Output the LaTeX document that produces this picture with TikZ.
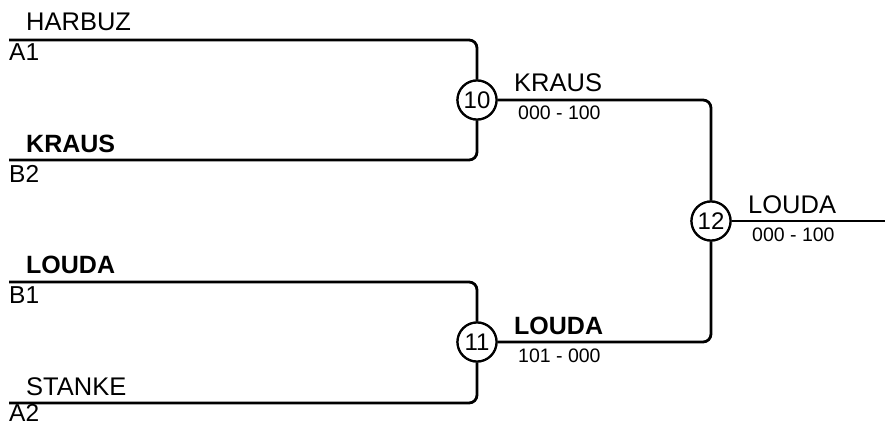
\documentclass[tikz,border=0pt]{standalone}
\usepackage{fontspec}
\setmainfont{Liberation Sans}
\begin{document}
\begin{tikzpicture}[x=1pt,y=-1pt,
  pname/.style={anchor=base west,inner sep=0pt,font=\fontsize{25.5}{28}\selectfont},
  pbold/.style={anchor=base west,inner sep=0pt,font=\fontsize{25}{28}\selectfont\bfseries},
  seedlbl/.style={anchor=base west,inner sep=0pt,font=\fontsize{24.5}{28}\selectfont},
  score/.style={anchor=base west,inner sep=0pt,font=\fontsize{19.5}{22}\selectfont},
  game/.style={circle,draw,line width=2.2pt,fill=white,minimum size=39pt,inner sep=0pt,font=\fontsize{24}{28}\selectfont},
  wire/.style={line width=2.8pt,rounded corners=8pt}]
\useasboundingbox (0,0) rectangle (885,425);
% game circles
\node[game] (c10) at (477,100) {10};
\node[game] (c11) at (477,342) {11};
\node[game] (c12) at (711,221) {12};
% start points
\coordinate (a1) at (9,40);
\coordinate (b2) at (9,160);
\coordinate (b1) at (9,282);
\coordinate (a2) at (9,403);
\coordinate (out) at (885,221);
% wires
\draw[wire] (a1) -- (a1 -| c10) -- (c10.north);
\draw[wire] (b2) -- (b2 -| c10) -- (c10.south);
\draw[wire] (b1) -- (b1 -| c11) -- (c11.north);
\draw[wire] (a2) -- (a2 -| c11) -- (c11.south);
\draw[wire] (c10.east) -- (c10 -| c12) -- (c12.north);
\draw[wire] (c11.east) -- (c11 -| c12) -- (c12.south);
\draw[wire] (c12.east) -- (out);
% redraw circles on top
\node[game] at (c10) {10};
\node[game] at (c11) {11};
\node[game] at (c12) {12};
% labels
\node[pname] (t1) at (26,31) {HARBUZ};
\node[seedlbl] (s1) at (9,61) {A1};
\node[pbold] (t2) at (26,152) {KRAUS};
\node[seedlbl] (s2) at (9,182) {B2};
\node[pbold] (t3) at (26,273) {LOUDA};
\node[seedlbl] (s3) at (9,303) {B1};
\node[pname] (t4) at (26,395) {STANKE};
\node[seedlbl] (s4) at (9,421.5) {A2};
\node[pname] (w10) at (514,92) {KRAUS};
\node[score] (r10) at (518,120) {000 - 100};
\node[pbold] (w11) at (514,334) {LOUDA};
\node[score] (r11) at (518,362) {101 - 000};
\node[pname] (w12) at (748,213) {LOUDA};
\node[score] (r12) at (752,241) {000 - 100};
\end{tikzpicture}
\end{document}
